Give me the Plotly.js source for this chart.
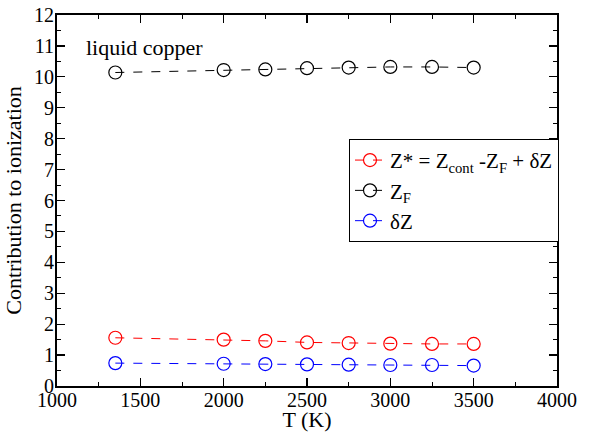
<!DOCTYPE html>
<html>
<head>
<meta charset="utf-8">
<script src="https://cdn.plot.ly/plotly-3.0.1.min.js"></script>
<style>html,body{margin:0;padding:0;background:#fff;}#chart{width:613px;height:432px;}</style>
</head>
<body>
<div id="chart"></div>
<script>
const temperatures = [1350, 2000, 2250, 2500, 2750, 3000, 3250, 3500];
const zStar = [1.56, 1.50, 1.46, 1.41, 1.39, 1.37, 1.36, 1.36];
const zF = [10.14, 10.22, 10.24, 10.28, 10.30, 10.32, 10.32, 10.30];
const deltaZ = [0.74, 0.72, 0.71, 0.70, 0.69, 0.68, 0.68, 0.66];
const seriesNames = ['Z* = Z<sub>cont</sub> -Z<sub>F</sub> + δZ', 'Z<sub>F</sub>', 'δZ'];
const seriesColors = ['#ff0000', '#000000', '#0000ff'];
const seriesValues = [zStar, zF, deltaZ];

const font = 'Liberation Serif';
const traces = seriesValues.map((vals, i) => ({
  x: temperatures, y: vals, name: seriesNames[i],
  type: 'scatter', mode: 'lines+markers',
  line: {color: seriesColors[i], width: 1, dash: 'dash'},
  marker: {symbol: 'circle-open', size: 13, color: seriesColors[i], line: {width: 1.2, color: seriesColors[i]}}
}));

const axisCommon = {
  showline: true, linecolor: '#000', linewidth: 2, mirror: 'ticks',
  ticks: 'inside', ticklen: 8, tickwidth: 1.3, tickcolor: '#000',
  showgrid: false, zeroline: false, automargin: false,
  tickfont: {family: font, size: 20, color: '#000'}
};

const layout = {
  width: 613, height: 432,
  margin: {l: 57, r: 56, t: 15, b: 46},
  paper_bgcolor: '#fff', plot_bgcolor: '#fff',
  font: {family: font, color: '#000'},
  showlegend: true,
  xaxis: Object.assign({}, axisCommon, {
    range: [1000, 4000], dtick: 500, tick0: 1000, ticklabelstandoff: -5,
    minor: {dtick: 250, ticks: 'inside', ticklen: 4, tickcolor: '#000', tickwidth: 1},
    title: {text: 'T (K)', font: {family: font, size: 22, color: '#000'}, standoff: 2}
  }),
  yaxis: Object.assign({}, axisCommon, {
    range: [0, 12], dtick: 1, tick0: 0, ticklabelstandoff: -3,
    minor: {dtick: 0.5, ticks: 'inside', ticklen: 4, tickcolor: '#000', tickwidth: 1},
    title: {text: 'Contribution to ionization', font: {family: font, size: 22, color: '#000'}, standoff: 6}
  }),
  legend: {
    x: 0.584, y: 0.666, xanchor: 'left', yanchor: 'top',
    bgcolor: '#fff', bordercolor: '#000', borderwidth: 1,
    font: {family: font, size: 21, color: '#000'},
    tracegroupgap: 0, itemwidth: 30
  },
  annotations: [{
    text: 'liquid copper', xref: 'paper', yref: 'paper',
    x: 0.054, y: 0.912, xanchor: 'left', yanchor: 'middle', showarrow: false,
    font: {family: font, size: 22, color: '#000'}
  }]
};

Plotly.newPlot('chart', traces, layout, {displayModeBar: false, staticPlot: true});
</script>
</body>
</html>
